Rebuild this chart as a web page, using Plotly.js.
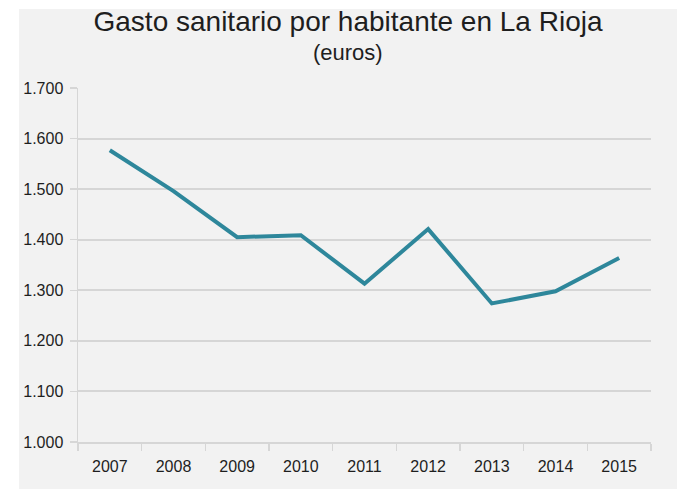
<!DOCTYPE html>
<html>
<head>
<meta charset="utf-8">
<script src="https://cdn.plot.ly/plotly-3.0.1.min.js"></script>
<style>
  html, body { margin: 0; padding: 0; background: #ffffff; width: 682px; height: 489px; overflow: hidden; }
  #chart { position: absolute; left: 0; top: 0; width: 682px; height: 489px; }
</style>
</head>
<body>
<div id="chart"></div>
<script>
const years = ['2007', '2008', '2009', '2010', '2011', '2012', '2013', '2014', '2015'];
const gasto = [1577, 1496, 1405, 1409, 1313, 1421, 1274, 1298, 1364];
const yTicks = [1000, 1100, 1200, 1300, 1400, 1500, 1600, 1700];
const titleText = 'Gasto sanitario por habitante en La Rioja';
const subtitleText = '(euros)';

const tickFont = { family: '"Liberation Sans", Arial, sans-serif', size: 16, color: '#1e1e1e' };

const trace = {
  type: 'scatter',
  mode: 'lines',
  x: years,
  y: gasto,
  line: { color: '#2e879b', width: 4 },
  hoverinfo: 'skip'
};

// plot area: x 78..651, y 88..442 of a 682x489 page
const L = 78, R = 31, T = 88, B = 47;
const pw = 682 - L - R, ph = 489 - T - B;

const layout = {
  width: 682,
  height: 489,
  margin: { l: L, r: R, t: T, b: B, pad: 0 },
  paper_bgcolor: '#ffffff',
  plot_bgcolor: '#f2f2f2',
  separators: ',.',
  showlegend: false,
  shapes: [{
    type: 'rect', xref: 'paper', yref: 'paper', layer: 'below',
    x0: (19 - L) / pw, x1: (677 - L) / pw,
    y0: (442 - 489) / ph, y1: (442 - 9) / ph,
    fillcolor: '#f2f2f2', line: { width: 0 }
  }],
  title: {
    text: titleText,
    font: { family: '"Liberation Sans", Arial, sans-serif', size: 28, color: '#1e1e1e' },
    x: 348 / 682, xref: 'container', xanchor: 'center',
    y: 1 - 21 / 489, yref: 'container', yanchor: 'middle'
  },
  annotations: [{
    text: subtitleText,
    xref: 'paper', yref: 'paper',
    x: (348 - L) / pw, y: 1, yshift: 36,
    xanchor: 'center', yanchor: 'middle',
    showarrow: false,
    font: { family: '"Liberation Sans", Arial, sans-serif', size: 22, color: '#1e1e1e' }
  }],
  xaxis: {
    type: 'category',
    range: [-0.5, 8.5],
    tickson: 'boundaries',
    ticks: 'outside',
    ticklen: 7,
    tickwidth: 1.5,
    tickcolor: '#d6d6d6',
    showline: true,
    linecolor: '#d6d6d6',
    linewidth: 2,
    showgrid: false,
    tickfont: tickFont,
    ticklabelstandoff: 9,
    fixedrange: true
  },
  yaxis: {
    range: [1000, 1700],
    tickvals: yTicks,
    tickformat: ',d',
    ticks: 'outside',
    ticklen: 7,
    tickwidth: 1.5,
    tickcolor: '#d6d6d6',
    showline: true,
    linecolor: '#d6d6d6',
    linewidth: 1.5,
    showgrid: true,
    gridcolor: '#d6d6d6',
    gridwidth: 2,
    zeroline: false,
    tickfont: tickFont,
    ticklabelstandoff: 3,
    fixedrange: true
  }
};

Plotly.newPlot('chart', [trace], layout, { displayModeBar: false, staticPlot: true });
</script>
</body>
</html>
